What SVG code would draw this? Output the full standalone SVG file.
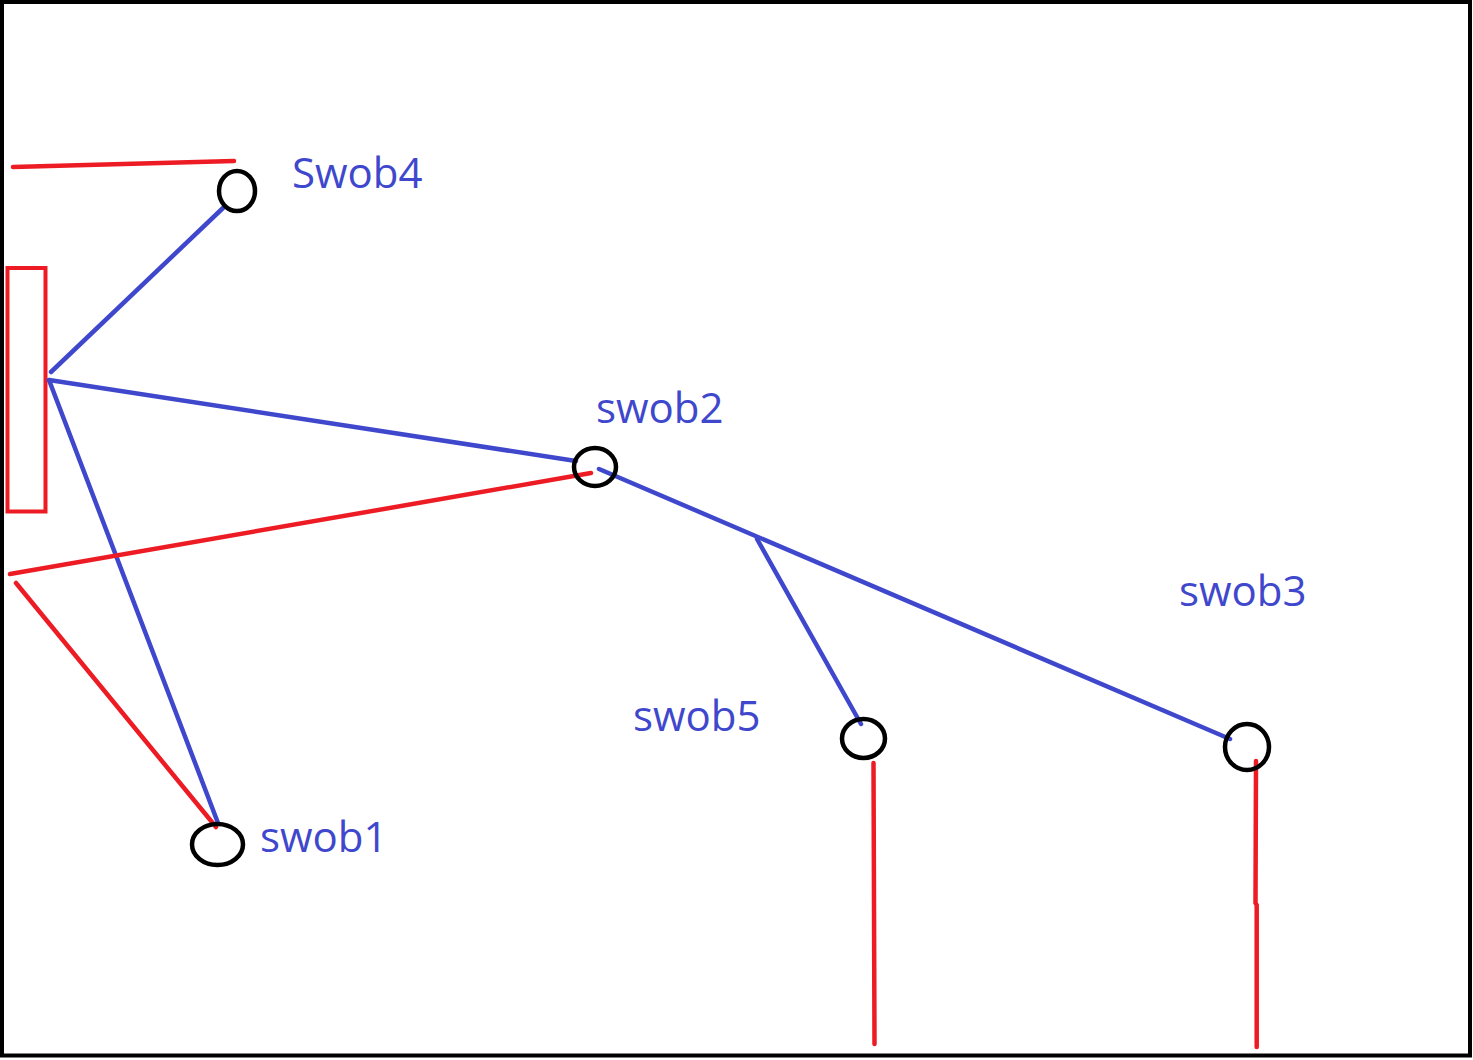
<svg xmlns="http://www.w3.org/2000/svg" width="1473" height="1060" viewBox="0 0 1473 1060">
<style>
.red{stroke:#ed1c24;stroke-width:4.5;fill:none;stroke-linecap:round}
.blue{stroke:#3f48cc;stroke-width:4.5;fill:none;stroke-linecap:round}
.node{stroke:#000;stroke-width:4.5;fill:none}
.lbl{font-family:"Open Sans","Noto Sans",sans-serif;font-size:42px;fill:#3f48cc}
</style>
<rect x="0" y="0" width="1473" height="1060" fill="#fff"/>
<rect x="2" y="2" width="1468" height="1053.5" fill="none" stroke="#000" stroke-width="4"/>
<g id="panel">
<rect x="7.5" y="268" width="38" height="243.5" fill="none" stroke="#ed1c24" stroke-width="4"/>
</g>
<g id="connectors">
<line class="red" x1="13" y1="167" x2="234" y2="161"/>
<line class="blue" x1="223" y1="208" x2="51" y2="372"/>
<line class="blue" x1="49" y1="380" x2="576" y2="461"/>
<line class="blue" x1="49" y1="380" x2="218" y2="823"/>
<line class="red" x1="10" y1="574" x2="591" y2="473"/>
<line class="red" x1="16" y1="583" x2="216" y2="827"/>
<line class="blue" x1="599" y1="469" x2="1230" y2="739"/>
<line class="blue" x1="757" y1="539" x2="861" y2="724"/>
<line class="red" x1="873.5" y1="763" x2="874.5" y2="1044"/>
<polyline class="red" points="1256,761 1255.5,903 1256.7,905 1256.7,1047"/>
</g>
<g id="swob4"><ellipse class="node" cx="237" cy="191" rx="18" ry="20"/><text class="lbl" x="292" y="188">Swob4</text></g>
<g id="swob2"><ellipse class="node" cx="595" cy="467" rx="21" ry="19"/><text class="lbl" x="596" y="423">swob2</text></g>
<g id="swob1"><ellipse class="node" cx="217.5" cy="844.5" rx="25.5" ry="20.5"/><text class="lbl" x="260" y="852">swob1</text></g>
<g id="swob5"><ellipse class="node" cx="863.5" cy="738.5" rx="21.5" ry="19.5"/><text class="lbl" x="633" y="731">swob5</text></g>
<g id="swob3"><ellipse class="node" cx="1247" cy="747" rx="22" ry="23"/><text class="lbl" x="1179" y="606">swob3</text></g>
</svg>
